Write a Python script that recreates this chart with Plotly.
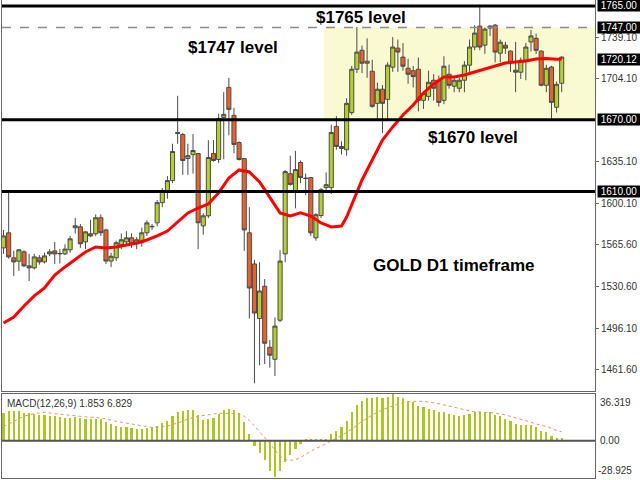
import plotly.graph_objects as go
from plotly.subplots import make_subplots

# ---- data (daily gold candles) ----
opens = [1563, 1575.6, 1554.7, 1551.9, 1559.7, 1548, 1546.3, 1554.7, 1551.3, 1558,
         1560.5, 1558, 1558, 1561.4, 1579.8, 1580.6, 1568, 1574.8, 1574.8, 1588.2,
         1578, 1552, 1554.7, 1565.6, 1568, 1571.4, 1566.4, 1567.3, 1575.6, 1580.6,
         1583.9, 1600.8, 1610.8, 1619.2, 1659.4, 1657.7, 1637.6, 1640.9, 1641.8, 1581.4,
         1589.8, 1641.8, 1636.8, 1671.9, 1697, 1673.7, 1651, 1637.6, 1575.6, 1549.6,
         1504, 1531, 1480, 1470, 1502.6, 1558, 1625, 1610.8, 1634.3, 1620.9,
         1621.7, 1571.4, 1590, 1613.3, 1613.3, 1664.4, 1647.7, 1645, 1676, 1712.2,
         1728, 1717.2, 1710.5, 1683.7, 1695.5, 1687, 1713.9, 1729.8, 1722.3, 1713,
         1711, 1712.2, 1686.2, 1689.5, 1703, 1703, 1686.2, 1708, 1698, 1696.3,
         1703, 1715.6, 1730.7, 1748.2, 1732.3, 1746.5, 1749, 1725.6, 1732.3, 1727.3,
         1711.4, 1709.7, 1719.7, 1735, 1738, 1727.3, 1698.8, 1714, 1680.4, 1700.5]
highs = [1578, 1611, 1560.5, 1562, 1561, 1558, 1558, 1557, 1559, 1562,
         1568, 1562, 1566, 1573, 1588, 1583, 1577, 1586.5, 1591, 1591,
         1579, 1559, 1569, 1575, 1577, 1575, 1572, 1580, 1586, 1583,
         1603, 1613, 1623, 1650, 1690, 1659, 1650, 1658, 1642, 1592,
         1653, 1653, 1675, 1693, 1705, 1680, 1652, 1638, 1597, 1553,
         1551, 1537, 1486, 1505, 1561, 1628, 1640, 1644, 1636, 1625,
         1622, 1592, 1613, 1626, 1666, 1673, 1652, 1688, 1715, 1747.4,
         1732, 1738, 1720, 1701, 1699, 1718, 1739, 1737, 1734, 1721,
         1715, 1722, 1694, 1711, 1708, 1707, 1723, 1716, 1705, 1705,
         1719, 1737, 1749, 1766, 1747, 1749, 1750, 1737, 1735, 1728,
         1735, 1722, 1734, 1745, 1742, 1728, 1716, 1715, 1702, 1723]
lows = [1558, 1554, 1539.6, 1543.8, 1547, 1535.4, 1545, 1549, 1550, 1556,
        1549.6, 1550, 1557, 1559, 1575, 1563, 1562, 1572, 1573, 1573,
        1549.6, 1547, 1552, 1562, 1566, 1563, 1562, 1564, 1573, 1578,
        1581, 1597, 1604, 1617, 1650, 1624, 1624, 1625, 1562, 1574,
        1588, 1635, 1634, 1637, 1657, 1642, 1636, 1560.5, 1504, 1450,
        1465, 1466, 1463, 1456, 1501, 1551, 1615, 1596, 1617, 1607,
        1573, 1569, 1588, 1611, 1608, 1645, 1641, 1640, 1674, 1709,
        1709, 1705, 1680, 1671, 1659, 1670, 1710, 1710, 1711, 1700,
        1697, 1677, 1679, 1686, 1686, 1681, 1683, 1696, 1693, 1693,
        1693, 1710, 1728, 1728, 1725, 1740, 1718, 1718, 1725, 1710,
        1693, 1704, 1703, 1727, 1725, 1698, 1693, 1671, 1676, 1693]
closes = [1573, 1555.5, 1551.3, 1561.4, 1548, 1546.3, 1555.5, 1551.3, 1556.3, 1559.7,
          1558, 1558.3, 1562, 1570.6, 1581.5, 1566.4, 1576.4, 1573, 1588.2, 1575.6,
          1552, 1556, 1567.3, 1569.8, 1571.4, 1566.4, 1569.8, 1575.6, 1583.9, 1580.9,
          1600.8, 1610.8, 1619.2, 1643.5, 1658.6, 1636, 1640, 1644.3, 1584, 1589.8,
          1638.5, 1636, 1671.1, 1674.5, 1678.7, 1649.4, 1636.8, 1578, 1529.5, 1508.6,
          1527, 1483.4, 1473.4, 1497.7, 1552, 1626.7, 1616, 1628.4, 1621.7, 1621.2,
          1575.6, 1590.7, 1611.6, 1615.8, 1659.4, 1647.7, 1646, 1683.7, 1712.2, 1726.5,
          1717.2, 1718.9, 1681.2, 1695.5, 1683.7, 1715.6, 1730.7, 1726.5, 1714.7, 1708,
          1706, 1686.2, 1692, 1701.3, 1696.3, 1684.5, 1714.7, 1698.8, 1703, 1703,
          1715.6, 1730.7, 1742.4, 1730.7, 1745.7, 1748.2, 1726.5, 1734.8, 1729.8, 1718,
          1709.7, 1719.7, 1730.7, 1740, 1728, 1698.8, 1713, 1684.5, 1699.6, 1722.3]

# moving average (red line), read at every other bar
ma_idx = [0, 2, 4, 6, 8, 10, 12, 14, 16, 18, 20, 22, 24, 26, 28, 30, 32, 34, 36, 38,
          40, 42, 44, 46, 48, 50, 52, 54, 56, 58, 60, 62, 64, 66, 67, 68, 70, 72, 74, 76,
          78, 80, 82, 84, 86, 88, 90, 92, 94, 96, 98, 100, 102, 104, 106, 108, 109]
ma_val = [1500.3, 1505.3, 1514.5, 1522.9, 1529.5, 1540.4, 1547.1, 1553.7, 1559.6, 1563.8,
          1562.9, 1563.8, 1565.4, 1567.1, 1569.6, 1573.0, 1577.1, 1584.6, 1592.2, 1596.3,
          1599.7, 1608.9, 1621.4, 1628.1, 1626.4, 1618.0, 1604.7, 1592.2, 1589.6, 1592.2,
          1589.6, 1583.8, 1580.5, 1581.3, 1588.8, 1598.8, 1619.7, 1636.4, 1653.1, 1664.0,
          1674.0, 1682.3, 1692.4, 1699.9, 1705.7, 1705.7, 1707.4, 1709.9, 1712.4, 1714.9,
          1717.4, 1718.2, 1719.1, 1720.8, 1721.2, 1720.6, 1720.5]

# MACD histogram (one value per bar)
macd_hist = [21.5, 22.8, 22.8, 22.8, 21.5, 21.5, 20.7, 20.2, 19.9, 19.4,
             18.9, 18.1, 17.6, 17.6, 18.3, 17.6, 17.3, 17.0, 17.3, 17.0,
             14.7, 12.8, 11.5, 11.0, 10.7, 10.2, 9.2, 9.2, 9.7, 10.5,
             11.5, 13.6, 15.7, 18.9, 22.3, 22.8, 23.6, 24.1, 20.2, 16.2,
             17.3, 17.6, 20.7, 23.6, 24.6, 23.6, 21.5, 14.9, 5.2, -3.9,
             -9.4, -15.2, -23.1, -28.0, -23.1, -16.5, -11.3, -6.0, -2.1, 1.0,
             1.0, 1.0, 1.0, 1.5, 5.0, 8.0, 11.0, 15.0, 22.0, 28.0,
             31.0, 33.0, 33.0, 34.0, 33.0, 34.0, 36.0, 34.0, 33.0, 31.0,
             30.0, 27.0, 26.0, 25.0, 24.0, 22.0, 22.0, 21.0, 20.0, 19.0,
             20.0, 21.0, 22.0, 22.0, 22.0, 22.0, 20.0, 19.0, 17.0, 15.0,
             13.0, 12.0, 12.0, 12.0, 11.0, 8.0, 7.0, 4.0, 2.0, 1.853]

# MACD signal line (dotted)
sig_idx = [0, 2, 4, 6, 8, 10, 12, 14, 16, 18, 20, 22, 24, 26, 28, 29, 30, 32, 34, 36,
           38, 40, 42, 44, 46, 47, 48, 49, 50, 51, 52, 53, 54, 55, 56, 57, 58, 59, 60, 61,
           62, 64, 66, 68, 70, 72, 74, 76, 78, 80, 82, 84, 86, 88, 90, 92, 94, 96, 98, 100,
           102, 104, 106, 108, 109]
sig_val = [11, 15, 19, 21, 22, 21, 20, 19, 18.5, 18, 17, 15, 13.6, 12.3, 11, 10.2, 10.5, 11.5, 13.6, 16.8,
           19, 20.4, 21.2, 21.2, 20.7, 19, 15.7, 11.5, 7.1, 2.6, -2.1, -7.3, -12, -14.7, -15.2, -14.7, -13.1, -10.5, -8.1, -6,
           -4.2, 0, 4, 9, 15, 20, 24, 27, 29.5, 30.5, 30.5, 29.5, 28, 26, 24, 22.5, 22, 21.5, 20, 18,
           15.5, 13, 11, 8, 6.829]

price_ticks = [1739.10, 1704.10, 1635.10, 1600.10, 1565.60, 1530.60, 1496.10, 1461.60]
level_lines = [1765.00, 1670.00, 1610.00]
dashed_level = 1747.00
box_labels = [1765.00, 1747.00, 1720.12, 1670.00, 1610.00]
macd_min, macd_max = -28.925, 36.319

n = len(opens)
xs = list(range(n))

fig = make_subplots(rows=2, cols=1, shared_xaxes=True, vertical_spacing=0.0,
                    row_heights=[0.82, 0.18])

# shaded consolidation zone
fig.add_shape(type="rect", xref="x", yref="y", x0=62.6, x1=116, y0=1670, y1=1747,
              fillcolor="#fafad2", line=dict(width=0), layer="below")

fig.add_trace(go.Candlestick(
    x=xs, open=opens, high=highs, low=lows, close=closes,
    increasing=dict(fillcolor="#b4cf2e", line=dict(color="#4a4a4a", width=1)),
    decreasing=dict(fillcolor="#e8622a", line=dict(color="#4a4a4a", width=1)),
    whiskerwidth=0, showlegend=False, hoverinfo="skip"), row=1, col=1)

fig.add_trace(go.Scatter(x=ma_idx, y=ma_val, mode="lines",
                         line=dict(color="#ff0000", width=3), showlegend=False,
                         hoverinfo="skip"), row=1, col=1)

fig.add_trace(go.Bar(x=xs, y=macd_hist, marker=dict(color="#aac81f", line=dict(width=0)),
                     width=0.42, showlegend=False, hoverinfo="skip"), row=2, col=1)
fig.add_trace(go.Scatter(x=sig_idx, y=sig_val, mode="lines",
                         line=dict(color="#f0906a", width=1, dash="dot"),
                         showlegend=False, hoverinfo="skip"), row=2, col=1)

# horizontal levels
for lv in level_lines:
    fig.add_shape(type="line", xref="x domain", yref="y", x0=0, x1=1, y0=lv, y1=lv,
                  line=dict(color="#000000", width=3))
fig.add_shape(type="line", xref="x domain", yref="y", x0=0, x1=1,
              y0=dashed_level, y1=dashed_level,
              line=dict(color="#8c8c8c", width=1.5, dash="dash"))
# MACD zero line
fig.add_shape(type="line", xref="x2 domain", yref="y2", x0=0, x1=1, y0=0, y1=0,
              line=dict(color="#555555", width=2))

bold = dict(family="Liberation Sans, Arial, sans-serif", size=17, color="#000000")
for txt, xx, yy in [("<b>$1765 level</b>", 69.8, 1755.8),
                    ("<b>$1747 level</b>", 44.8, 1730.0),
                    ("<b>$1670 level</b>", 91.6, 1654.8),
                    ("<b>GOLD D1 timeframe</b>", 87.9, 1547.9)]:
    fig.add_annotation(x=xx, y=yy, xref="x", yref="y", text=txt, showarrow=False,
                       font=bold, xanchor="center", yanchor="middle")

small = dict(family="Liberation Sans, Arial, sans-serif", size=10)
for lv in box_labels:
    fig.add_annotation(x=1, y=lv, xref="paper", yref="y", text=f"{lv:.2f}",
                       showarrow=False, xanchor="left", yanchor="middle", xshift=2,
                       font=dict(small, color="#ffffff"), bgcolor="#000000",
                       borderpad=0, width=42, height=11, align="center")

fig.add_annotation(x=1, y=macd_max, xref="paper", yref="y2", text=f"{macd_max:.3f}",
                   showarrow=False, xanchor="left", yanchor="top", xshift=3, yshift=-1,
                   font=dict(small, color="#333333"))
fig.add_annotation(x=1, y=0, xref="paper", yref="y2", text="0.00",
                   showarrow=False, xanchor="left", yanchor="middle", xshift=3,
                   font=dict(small, color="#333333"))
fig.add_annotation(x=1, y=macd_min, xref="paper", yref="y2", text=f"{macd_min:.3f}",
                   showarrow=False, xanchor="left", yanchor="bottom", xshift=1, yshift=0,
                   font=dict(small, color="#333333"))
fig.add_annotation(x=0, y=macd_max, xref="paper", yref="y2",
                   text=f"MACD(12,26,9) {macd_hist[-1]:.3f} {sig_val[-1]:.3f}",
                   showarrow=False, xanchor="left", yanchor="top", xshift=3, yshift=-2,
                   font=dict(small, color="#333333"))

fig.update_xaxes(range=[-0.3, 115.5], showgrid=False, zeroline=False, showticklabels=False,
                 ticks="", showline=True, linecolor="#666666", linewidth=1, mirror=True,
                 rangeslider=dict(visible=False))
fig.update_yaxes(row=1, col=1, range=[1443.5, 1770], side="right", showgrid=False,
                 zeroline=False, tickvals=price_ticks,
                 ticktext=[f"{v:.2f}" for v in price_ticks], ticks="outside", ticklen=3,
                 tickcolor="#666666", tickfont=dict(small, color="#333333"),
                 showline=True, linecolor="#666666", linewidth=1, mirror=True)
fig.update_yaxes(row=2, col=1, range=[macd_min, macd_max], side="right", showgrid=False,
                 zeroline=False, showticklabels=False, ticks="",
                 showline=True, linecolor="#666666", linewidth=1, mirror=True)

fig.update_layout(width=640, height=480, margin=dict(l=2, r=45, t=0, b=2),
                  paper_bgcolor="#ffffff", plot_bgcolor="#ffffff",
                  boxgap=0.2, boxgroupgap=0, bargap=0, showlegend=False,
                  yaxis_domain=[0.182, 1.0], yaxis2_domain=[0.0, 0.176])

fig.write_html("out.html", config={"displayModeBar": False},
               post_script="document.body.style.margin='0';document.body.style.padding='0';")
